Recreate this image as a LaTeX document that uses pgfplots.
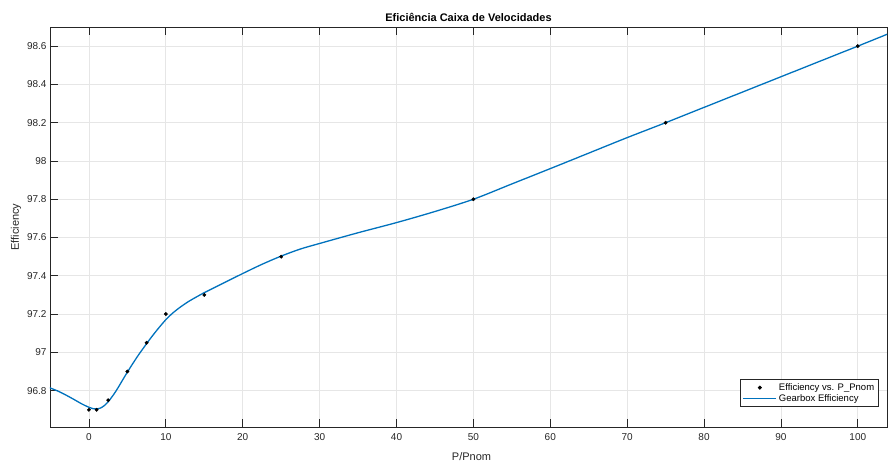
\documentclass[border=0pt]{standalone}
\usepackage{fontspec}
\setmainfont{Liberation Sans}
\usepackage{pgfplots}
\pgfplotsset{compat=1.18}

\definecolor{mblue}{rgb}{0,0.447,0.741}
\definecolor{axgray}{HTML}{262626}
\definecolor{gridgray}{HTML}{E6E6E6}

\pgfplotsset{
    dotlegend/.style={legend image code/.code={\draw[##1,mark repeat=2,mark phase=2] plot coordinates {(0pt,0pt)(16.5pt,0pt)(33pt,0pt)};}},
    linelegend/.style={legend image code/.code={\draw[mblue, line width=1.3pt] (0pt,0pt) -- (33pt,0pt);}},
}

\begin{document}
\begin{tikzpicture}
\useasboundingbox (-50pt,-37pt) rectangle (838pt,427pt);
\begin{axis}[
    scale only axis,
    width=837pt, height=400pt,
    at={(0,0)}, anchor=south west,
    xmin=-5.07, xmax=103.8,
    ymin=96.61, ymax=98.70,
    xtick={0,10,...,100},
    ytick={96.8,97,97.2,97.4,97.6,97.8,98,98.2,98.4,98.6},
    yticklabels={96.8,97,97.2,97.4,97.6,97.8,98,98.2,98.4,98.6},
    tick align=inside,
    xtick pos=both, ytick pos=left,
    major tick length=8pt,
    grid=major,
    grid style={line width=0.8pt, draw=gridgray},
    axis line style={draw=axgray, line width=0.8pt},
    every tick/.style={draw=axgray, line width=0.8pt},
    tick label style={font=\fontsize{10}{12}\selectfont, text=axgray},
    xticklabel style={yshift=-3pt},
    /pgf/number format/assume math mode=true,
    title={\textbf{Eficiência Caixa de Velocidades}},
    title style={font=\fontsize{11}{13}\selectfont, at={(0.5,1)}, yshift=-4pt},
    xlabel={P/Pnom},
    ylabel={Efficiency},
    label style={font=\fontsize{11}{13}\selectfont, text=axgray},
    xlabel style={yshift=-5pt, xshift=3pt},
    ylabel style={yshift=-1pt},
    legend style={at={(rel axis cs:0.9904,0.05)}, anchor=south east,
        font=\fontsize{9.5}{11}\selectfont, draw=axgray, line width=0.6pt,
        inner xsep=2.5pt, inner ysep=2pt, row sep=-1.5pt, cells={anchor=west}},
    clip=true,
]
\addplot[only marks, mark=*, mark size=1.7pt, black, dotlegend]
    coordinates {
    (0,96.7)(1,96.7)(2.5,96.75)(5,96.9)(7.5,97.05)(10,97.2)
    (15,97.3)(25,97.5)(50,97.8)(75,98.2)(100,98.6)
};
\addlegendentry{Efficiency vs. P\_Pnom}
\addplot[mblue, line width=1.3pt, smooth, linelegend]
    coordinates {
    (-5.1,96.815)(-4,96.797)(-3,96.777)(-2,96.755)(-1,96.732)
    (-0.5,96.722)(0,96.713)(0.5,96.706)(1,96.704)(1.5,96.709)
    (2,96.722)(2.5,96.742)(3,96.768)(3.5,96.797)(4,96.830)
    (4.5,96.864)(5,96.897)(5.5,96.929)(6,96.960)(6.5,96.990)
    (7,97.018)(7.5,97.046)(8,97.073)(8.5,97.099)(9,97.124)
    (9.5,97.148)(10,97.171)(10.5,97.191)(11,97.209)(11.5,97.225)
    (12,97.240)(13,97.267)(14,97.290)(15,97.312)
    (17.5,97.362)(20,97.412)(22.5,97.460)(25,97.503)(27.5,97.540)
    (30,97.569)(35,97.625)(40,97.678)(45,97.736)(50,97.800)
    (55,97.880)(60,97.960)(65,98.041)(70,98.122)(75,98.200)
    (80,98.280)(85,98.360)(90,98.440)(95,98.520)(100,98.600)(104,98.665)
};
\addlegendentry{Gearbox Efficiency}
\end{axis}
\end{tikzpicture}
\end{document}
